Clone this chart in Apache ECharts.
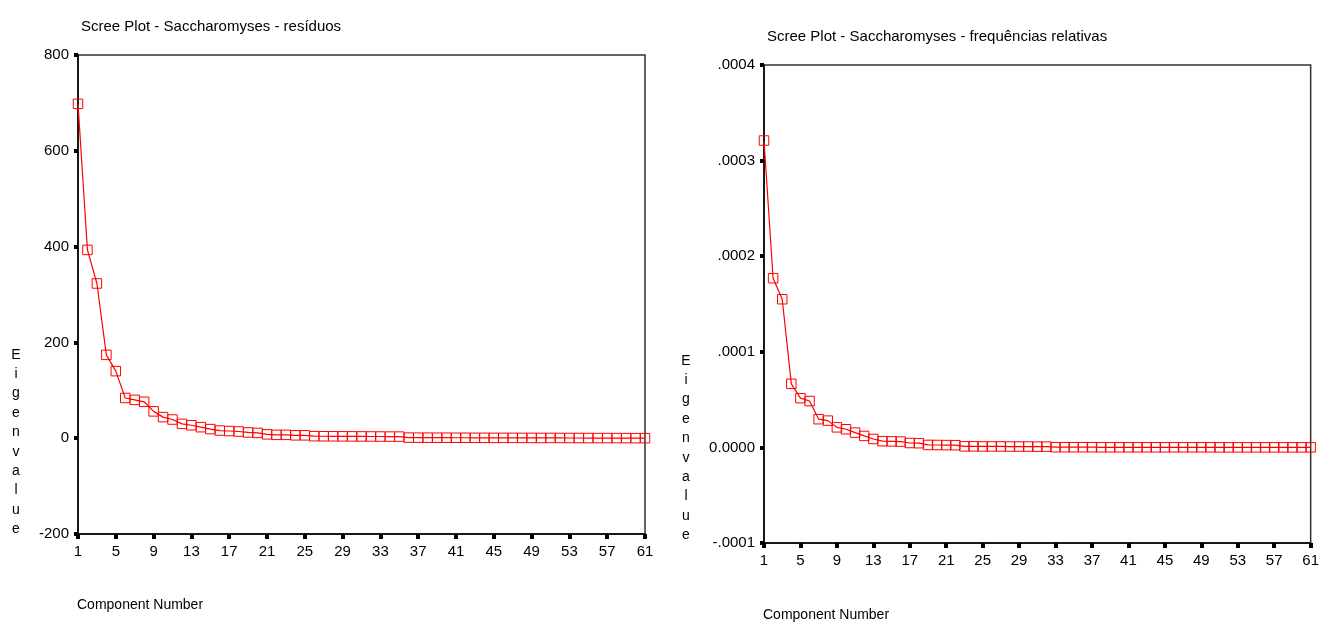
<!DOCTYPE html>
<html>
<head>
<meta charset="utf-8">
<script src="https://cdn.jsdelivr.net/npm/echarts@6/dist/echarts.min.js"></script>
<style>
  html, body { margin: 0; padding: 0; background: #fff; }
  #chart { width: 1322px; height: 627px; }
</style>
</head>
<body>
<div id="chart"></div>
<script>
// Component numbers shared by both scree plots
const components = [
  1, 2, 3, 4, 5, 6, 7, 8, 9, 10, 11, 12, 13, 14, 15, 16, 17, 18, 19, 20,
  21, 22, 23, 24, 25, 26, 27, 28, 29, 30, 31, 32, 33, 34, 35, 36, 37, 38, 39, 40,
  41, 42, 43, 44, 45, 46, 47, 48, 49, 50, 51, 52, 53, 54, 55, 56, 57, 58, 59, 60, 61
];

// Eigenvalues – resíduos
const residuosEigen = [
  698, 393, 323, 174, 140, 84, 80, 76, 56, 44,
  39, 30, 27, 23, 19, 16, 15, 14, 12, 11,
  8, 7, 7, 6, 6, 4.2, 4.1, 4.0, 3.9, 3.8,
  3.7, 3.6, 3.5, 3.4, 3.3, 1.2, 1.1, 1.1, 1.0, 1.0,
  0.9, 0.9, 0.8, 0.8, 0.7, 0.7, 0.7, 0.6, 0.6, 0.5,
  0.5, 0.5, 0.4, 0.4, 0.3, 0.3, 0.3, 0.2, 0.2, 0.1, 0.1
];

// Eigenvalues – frequências relativas
const frequenciasEigen = [
  0.000321, 0.000177, 0.000155, 0.0000665, 0.0000515, 0.0000485, 0.0000295, 0.000028, 0.000021, 0.000019,
  0.0000155, 0.000012, 0.0000088, 0.0000065, 0.0000063, 0.0000061, 0.0000046, 0.0000044, 0.0000026, 0.0000025,
  0.0000024, 0.0000023, 0.0000011, 0.0000011, 0.000001, 0.000001, 0.000001, 0.0000009, 0.0000009, 0.0000009,
  0.0000008, 0.0000008, 0.0000002, 0.0000002, 0.0000002, 0.0000002, 0.0000002, 0.0000001, 0.0000001, 0.0000001,
  0.0000001, 0.0000001, 0.0000001, 0.0000001, 0.0000001, 0.0000001, 0.0000001, 0.0000001, 0.0000001, 0.0000001,
  0.00000005, 0.00000005, 0.00000005, 0.00000005, 0.00000005, 0.00000005, 0.00000005, 0.00000005, 0.00000005, 0.00000005, 0.00000005
];

// Y tick labels, bottom to top
const residuosTicks = ['-200', '0', '200', '400', '600', '800'];
const frequenciasTicks = ['-.0001', '0.0000', '.0001', '.0002', '.0003', '.0004'];

const titles = [
  'Scree Plot - Saccharomyses - resíduos',
  'Scree Plot - Saccharomyses - frequências relativas'
];
const xName = 'Component Number';
const yName = 'Eigenvalue';

const FONT = "'Liberation Sans', Arial, sans-serif";
const RED = '#ff0000';

const chart = echarts.init(document.getElementById('chart'), null, { renderer: 'canvas' });

function xAxisFor(gridIndex) {
  return {
    type: 'category',
    gridIndex: gridIndex,
    data: components,
    boundaryGap: false,
    axisLine: { show: true, onZero: false, lineStyle: { color: '#000', width: 1.5 } },
    axisTick: { show: true, interval: 3, length: 5, lineStyle: { color: '#000', width: 4 } },
    axisLabel: { interval: 3, margin: 10, fontFamily: FONT, fontSize: 15, color: '#000' },
    splitLine: { show: false }
  };
}

function yAxisFor(gridIndex, min, max, step, ticks) {
  return {
    type: 'value',
    gridIndex: gridIndex,
    min: min,
    max: max,
    interval: step,
    axisLine: { show: true, lineStyle: { color: '#000', width: 1.5 } },
    axisTick: { show: true, length: 4, lineStyle: { color: '#000', width: 4 } },
    axisLabel: {
      margin: 9,
      fontFamily: FONT,
      fontSize: 15,
      color: '#000',
      formatter: function (v) {
        const i = Math.round((v - min) / step);
        return ticks[i] !== undefined ? ticks[i] : '';
      }
    },
    splitLine: { show: false }
  };
}

function screeSeries(idx, data) {
  return {
    type: 'line',
    xAxisIndex: idx,
    yAxisIndex: idx,
    data: data,
    symbol: 'rect',
    symbolSize: 9.5,
    showAllSymbol: true,
    itemStyle: { color: 'rgba(0,0,0,0)', borderColor: RED, borderWidth: 1 },
    lineStyle: { color: RED, width: 1.2 },
    emphasis: { disabled: true }
  };
}

function verticalName(x, y) {
  return {
    type: 'text',
    x: x,
    y: y,
    style: {
      text: yName.split('').join('\n'),
      fontFamily: FONT,
      fontSize: 14,
      lineHeight: 19.4,
      fill: '#000',
      align: 'center',
      verticalAlign: 'middle'
    }
  };
}

function horizontalName(x, y) {
  return {
    type: 'text',
    x: x,
    y: y,
    style: {
      text: xName,
      fontFamily: FONT,
      fontSize: 14,
      fill: '#000',
      align: 'left',
      verticalAlign: 'middle'
    }
  };
}

chart.setOption({
  animation: false,
  backgroundColor: '#fff',
  title: [
    { text: titles[0], left: 76, top: 14, textStyle: { fontFamily: FONT, fontSize: 15, fontWeight: 'normal', color: '#000' } },
    { text: titles[1], left: 762, top: 24, textStyle: { fontFamily: FONT, fontSize: 15, fontWeight: 'normal', color: '#000' } }
  ],
  grid: [
    { left: 78, top: 55, width: 567, height: 479, show: true, borderColor: '#333', borderWidth: 1.5, backgroundColor: '#fff' },
    { left: 764, top: 65, width: 549, height: 478, show: true, borderColor: '#333', borderWidth: 1.5, backgroundColor: '#fff' }
  ],
  xAxis: [xAxisFor(0), xAxisFor(1)],
  yAxis: [
    yAxisFor(0, -200, 800, 200, residuosTicks),
    yAxisFor(1, -0.0001, 0.0004, 0.0001, frequenciasTicks)
  ],
  series: [screeSeries(0, residuosEigen), screeSeries(1, frequenciasEigen)],
  graphic: [
    verticalName(16, 442),
    verticalName(686, 448),
    horizontalName(77, 605),
    horizontalName(763, 615)
  ]
});
</script>
</body>
</html>
